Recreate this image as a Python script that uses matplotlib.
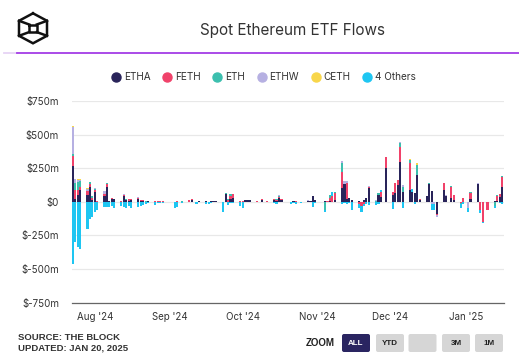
import matplotlib
matplotlib.use('Agg')
import numpy as np
import pandas as pd
import matplotlib.pyplot as plt
import matplotlib.dates as mdates
from matplotlib.patches import FancyBboxPatch
from matplotlib.lines import Line2D

plt.rcParams['font.family'] = ['Inter', 'DejaVu Sans']

# trading days, Jul 23 2024 - Jan 16 2025
days_jul = ['2024-07-%02d' % d for d in [23, 24, 25, 26, 29, 30, 31]]
days_aug = ['2024-08-%02d' % d for d in [1, 2, 5, 6, 7, 8, 9, 12, 13, 14, 15, 16, 19, 20, 21, 22, 23, 26, 27, 28, 29, 30]]
days_sep = ['2024-09-%02d' % d for d in [3, 4, 5, 6, 9, 10, 11, 12, 13, 16, 17, 18, 19, 20, 23, 24, 25, 26, 27, 30]]
days_oct = ['2024-10-%02d' % d for d in [1, 2, 3, 4, 7, 8, 9, 10, 11, 14, 15, 16, 17, 18, 21, 22, 23, 24, 25, 28, 29, 30, 31]]
days_nov = ['2024-11-%02d' % d for d in [1, 4, 5, 6, 7, 8, 11, 12, 13, 14, 15, 18, 19, 20, 21, 22, 25, 26, 27, 29]]
days_dec = ['2024-12-%02d' % d for d in [2, 3, 4, 5, 6, 9, 10, 11, 12, 13, 16, 17, 18, 19, 20, 23, 24, 26, 27, 30, 31]]
days_jan = ['2025-01-%02d' % d for d in [2, 3, 6, 7, 8, 10, 13, 14, 15, 16]]
dates = days_jul + days_aug + days_sep + days_oct + days_nov + days_dec + days_jan

# daily flows, $m
etha = ([266, 17, 50, 87, 50, 110, 10] +
        [75, 0, 40, 110, 8, 20, 20, 0, 45, 12, 5, 15, 20, 8, 5, 0, 3, 0, 0, 0, 0, 0] +
        [0, 0, 0, 0, 0, 12, 0, 0, 5, 8, 0, 5, 5, 5, 0, 55, 0, 20, 30, 0] +
        [0, 10, 12, 10, 0, 0, 15, 0, 0, 15, 5, 25, 15, 0, 0, 5, 0, 0, 0, 8, 5, 40, 10] +
        [0, 5, 0, 5, 0, 10, 100, 135, 20, 25, 10, 5, 0, 10, 25, 100, 0, 50, 35, 250] +
        [50, 67, 124, 293, 75, 87, 75, 65, 200, 10, 40, 130, 80, 0, -90, 87, 45, 25, 10, 0, 0] +
        [0, 20, 129, 0, 0, 0, 8, 8, 35, 112])
feth = ([71, 74, 35, 25, 30, 20, 20] +
        [12, 5, 17, 20, 0, 5, 3, 8, 7, 4, 15, 3, 5, 7, 5, 0, 2, 3, 5, 2, 4, 0] +
        [0, 3, 0, 0, 10, 5, 0, 0, 0, 0, 0, 0, 0, 0, 0, 5, 15, 25, 25, 5] +
        [5, 0, 0, 3, 5, 0, 3, 0, 2, 5, 8, 10, 5, 0, 0, 0, 4, 0, 0, 0, 3, 0, 0] +
        [0, 0, 8, 25, 45, 55, 124, 0, 117, 0, 0, -20, -35, -15, 0, 8, 0, 0, 35, 80] +
        [25, 70, 37, 117, 0, 200, 0, 0, 0, 10, 0, 0, 0, 0, -5, 50, 0, 87, 40, -10, 25] +
        [0, 45, 0, -60, -150, -65, 0, 35, 20, 75])
eth = ([15, 46, 60, 45, 0, 17, 15] +
       [5, 0, 0, 10, 0, 3, 0, 0, 0, 3, 0, 0, 0, 0, 3, 5, 0, 0, 3, 0, 3, 0] +
       [0, 0, 0, 2, 0, 0, 0, 0, 0, 0, 0, 0, 0, 0, 0, 3, 5, 10, 5, 0] +
       [0, 0, 0, 0, 0, 0, 0, 0, 0, 0, 5, 10, 0, 0, 0, 0, 0, 0, 0, 0, 0, 0, 0] +
       [0, -60, 0, 20, 0, 8, 62, 0, 0, 0, 0, 0, 0, 0, 0, 0, 5, 17, 0, 0] +
       [0, 0, 0, 25, 37, 25, 0, 0, 75, 0, 0, 8, 0, 0, 0, 3, 0, 5, 0, -8, 5] +
       [0, 5, 0, 0, 0, 0, -35, 5, 5, 5])
ethw = ([204, 30, 20, 8, 17, 3, 0] +
        [12, 0, 25, 0, 0, 0, 0, 0, 3, 0, 0, 0, 8, 0, 0, 0, 0, 0, 0, 0, 0, 0] +
        [0, 0, 0, 0, 0, 0, 0, 0, 0, 0, 0, 0, 0, 0, 0, 0, 0, 3, 0, 0] +
        [0, 0, 0, 0, 0, 0, 0, 0, 0, 0, 0, 3, 0, 0, 0, 0, 0, 0, 0, 2, 0, 0, 0] +
        [0, 0, 0, 0, 0, 0, 20, 18, 15, 0, 0, 0, 0, 0, 0, 7, 5, 0, 0, 0] +
        [0, 0, 0, 12, 10, 0, 0, 0, 0, 0, 5, 0, -20, -15, -15, 0, 5, 0, 0, 0, 0] +
        [-50, 0, 7, 0, 0, 0, 0, 0, 0, 0])
ceth = ([10, 5, 5, 3, 5, 0, 0] +
        [0, 0, 0, 3, 0, 0, 0, 0, 0, 0, 0, 0, 0, 0, 0, 0, 0, 0, 0, 0, 0, 0] +
        [0, 0, 0, 0, 0, 0, 0, 0, 0, 0, 0, 0, 0, 0, 0, 5, 0, 0, 0, 0] +
        [0, 0, 0, 0, 0, 0, 0, 0, 0, 0, 0, 3, 0, 0, 0, 0, 0, 0, 0, 0, 0, 0, 0] +
        [0, 0, 0, 0, 0, 0, 0, 0, 0, 0, 0, 0, 0, 0, 0, 0, 0, 0, 0, 0] +
        [0, 0, 0, 0, 0, 5, 0, 0, 15, 0, 0, 0, 0, 0, 0, 0, 0, 0, 0, 0, 0] +
        [0, 0, 0, 0, 0, 0, 0, 0, 0, 0])
others = ([-460, -300, -335, -355, -200, -125, -113] +
          [-76, -58, -39, -40, -40, -30, -45, -30, -40, -45, -30, -45, -40, -30, -22, -15, -10, -22, -12, -8, -10, -5] +
          [-50, -40, -5, -8, -5, -5, -3, -20, -3, -15, -15, -8, -3, 0, -80, -5, -25, -8, -10, -30] +
          [-50, -5, -3, 0, -3, -2, -5, -3, 0, -8, -15, -5, -5, -3, -18, -8, -15, -5, -8, -3, 0, -40, -10] +
          [-5, -15, -5, -5, 28, 0, -20, -10, -15, -10, -58, -25, -45, -20, -15, -25, -25, -20, 20, 0] +
          [-55, -5, -5, 0, -43, -5, 20, -15, -5, 0, 0, 0, -40, -50, 0, 0, 0, 0, 0, -30, -15] +
          [-25, 0, 0, -25, -10, 0, -15, -5, -10, -17])

names = ['ETHA', 'FETH', 'ETH', 'ETHW', 'CETH', '4 Others']
colors = ['#29245a', '#f0426a', '#3cbfae', '#b6b0e2', '#f8d64a', '#1ec6f2']
series = [etha, feth, eth, ethw, ceth, others]

x = pd.to_datetime(dates)

fig = plt.figure(figsize=(5.19, 3.58), dpi=100)
ax = fig.add_axes([71.5 / 519, 1 - 302.5 / 358, 432 / 519, 201.5 / 358])

pos_base = np.zeros(len(x))
neg_base = np.zeros(len(x))
for vals, c, n in zip(series, colors, names):
    v = np.array(vals, dtype=float)
    p = np.where(v > 0, v, 0)
    q = np.where(v < 0, v, 0)
    ax.bar(x, p, bottom=pos_base, width=0.9, color=c, linewidth=0)
    ax.bar(x, q, bottom=neg_base, width=0.9, color=c, linewidth=0)
    pos_base += p
    neg_base += q

ax.set_xlim(x[0] - pd.Timedelta(hours=14), x[-1] + pd.Timedelta(hours=14))
ax.set_ylim(-750, 750)
ax.set_yticks([-750, -500, -250, 0, 250, 500, 750])
ax.set_yticklabels(['$-750m', '$-500m', '$-250m', '$0', '$250m', '$500m', '$750m'])
ax.grid(axis='y', color='#e8e8e8', linewidth=0.9)
ax.set_axisbelow(True)
for s in ['top', 'right', 'left']:
    ax.spines[s].set_visible(False)
ax.spines['bottom'].set_color('#666666')
ax.spines['bottom'].set_linewidth(0.9)
ax.xaxis.set_major_locator(mdates.MonthLocator(bymonth=[8, 9, 10, 11, 12, 1]))
ax.xaxis.set_major_formatter(mdates.DateFormatter("%b '%y"))
ax.tick_params(axis='x', length=0, labelsize=7, colors='#333333', pad=7)
ax.tick_params(axis='y', length=0, labelsize=7, colors='#333333', pad=9)

# title and legend
fig.text(293 / 519, 1 - 30 / 358, 'Spot Ethereum ETF Flows', ha='center', va='center',
         fontsize=11, color='#333333')

handles = [Line2D([], [], marker='o', linestyle='', markersize=6.5, color=c) for c in colors]
fig.legend(handles, names, loc='center', bbox_to_anchor=(264 / 519, 1 - 77 / 358), ncol=6,
           frameon=False, fontsize=7.2, handlelength=0.8, handletextpad=0.4,
           columnspacing=1.25, labelcolor='#333333')

# overlay in pixel coords for logo, rule and buttons
ov = fig.add_axes([0, 0, 1, 1], facecolor='none')
ov.set_xlim(0, 519)
ov.set_ylim(358, 0)
ov.axis('off')

cx, cy, r, hw = 33, 28.3, 15, 14
hx = [cx, cx + hw, cx + hw, cx, cx - hw, cx - hw, cx]
hy = [cy - r, cy - r / 2, cy + r / 2, cy + r, cy + r / 2, cy - r / 2, cy - r]
ov.plot(hx, hy, color='#111111', lw=1.8, solid_joinstyle='miter')
sq = 3.8
ov.plot([cx - sq, cx + sq, cx + sq, cx - sq, cx - sq], [cy - sq, cy - sq, cy + sq, cy + sq, cy - sq],
        color='#111111', lw=1.8)
ov.plot([cx - hw, cx - sq], [cy - r / 2, cy - sq], color='#111111', lw=1.8)
ov.plot([cx + hw, cx + sq], [cy - r / 2, cy - sq], color='#111111', lw=1.8)
ov.plot([cx - hw, cx - sq], [cy + r / 2, cy + sq], color='#111111', lw=1.8)
ov.plot([cx + hw, cx + sq], [cy + r / 2, cy + sq], color='#111111', lw=1.8)

ov.plot([4, 17], [52.7, 52.7], color='#e6d3f5', lw=1.3)
ov.plot([17, 519], [52.7, 52.7], color='#a43de6', lw=1.3)

ov.text(18, 337.5, 'SOURCE: THE BLOCK', fontsize=6.8, fontweight='bold', color='#333333',
        va='center', family='Liberation Sans')
ov.text(18, 348.5, 'UPDATED: JAN 20, 2025', fontsize=6.8, fontweight='bold', color='#333333',
        va='center', family='Liberation Sans')
ov.text(335, 343, 'ZOOM', fontsize=7, fontweight='bold', color='#222222', ha='right',
        va='center', family='Liberation Sans')

buttons = [('ALL', 342, '#2a2561', 'white'), ('YTD', 376, '#d6d6d6', '#222222'),
           ('', 408.5, '#d6d6d6', '#222222'), ('3M', 442, '#d6d6d6', '#222222'),
           ('1M', 475, '#d6d6d6', '#222222')]
for lbl, bx, fc, tc in buttons:
    ov.add_patch(FancyBboxPatch((bx, 334), 28, 18, boxstyle='round,pad=0,rounding_size=2',
                                fc=fc, ec='none'))
    ov.text(bx + 14, 343.5, lbl, fontsize=5.8, fontweight='bold', color=tc, ha='center',
            va='center', family='Liberation Sans')

fig.savefig('out.png', dpi=100)
